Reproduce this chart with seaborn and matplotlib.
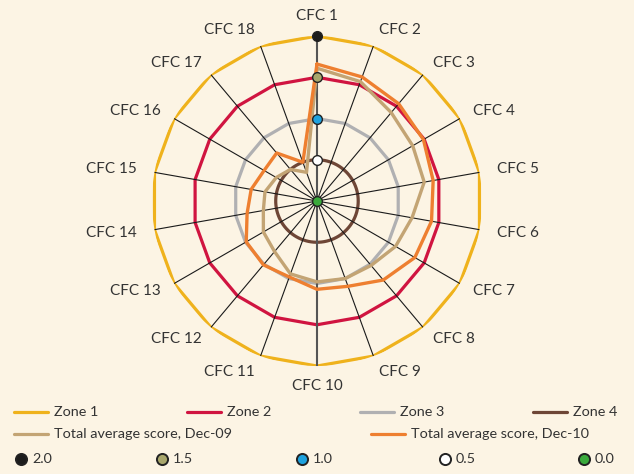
import numpy as np
import pandas as pd
import matplotlib.pyplot as plt
import seaborn as sns

# Radar chart: CFC scores vs. zone thresholds
categories = [f"CFC {i}" for i in range(1, 19)]
dec09 = [1.61, 1.54, 1.40, 1.34, 1.32, 1.17, 1.10, 1.02, 1.00,
         0.98, 0.94, 0.80, 0.75, 0.66, 0.64, 0.57, 0.50, 0.37]
dec10 = [1.66, 1.60, 1.54, 1.49, 1.43, 1.41, 1.37, 1.25, 1.10,
         1.07, 0.98, 1.01, 0.99, 0.86, 0.81, 0.74, 0.76, 0.50]
zone_names = ["Zone 1", "Zone 2", "Zone 3", "Zone 4"]
zone_levels = [2.0, 1.5, 1.0, 0.5]
zone_colors = ["#efb21c", "#d01440", "#b0b0b2", "#6e4636"]
marker_levels = [2.0, 1.5, 1.0, 0.5, 0.0]
marker_colors = ["#1c1c1c", "#a9a76c", "#1ea2de", "#ffffff", "#3aaa3c"]
tan = "#c3a474"
orange = "#ee7f30"
bg = "#fcf4e4"

sns.set_theme(style="white")
plt.rcParams["font.family"] = ["Lato", "DejaVu Sans"]

n = len(categories)
theta = np.linspace(0, 2 * np.pi, n, endpoint=False)
theta_c = np.append(theta, theta[0])

fig = plt.figure(figsize=(6.34, 4.74), dpi=100, facecolor=bg)
ax = fig.add_axes([0.2397, 0.2278, 0.5205, 0.6962], projection="polar")
ax.set_facecolor("none")
ax.set_theta_zero_location("N")
ax.set_theta_direction(-1)
ax.set_ylim(0, 2.0)
ax.grid(False)
ax.set_xticks([])
ax.set_yticks([])
ax.spines["polar"].set_visible(False)

# zone rings
for lvl, col, name in zip(zone_levels, zone_colors, zone_names):
    if name == "Zone 4":
        t = np.linspace(0, 2 * np.pi, 200)
        ax.plot(t, np.full_like(t, lvl), color=col, lw=2.3, zorder=2)
    else:
        ax.plot(theta_c, np.full_like(theta_c, lvl), color=col, lw=2.3, zorder=2)

# spokes
for i, t in enumerate(theta):
    if i in (0, 9):
        ax.plot([t, t], [0, 2.0], color="#555555", lw=1.5, zorder=3)
    else:
        ax.plot([t, t], [0, 2.0], color="#1a1a1a", lw=0.8, zorder=3)

# score series
df = pd.DataFrame({
    "theta": np.concatenate([theta_c, theta_c]),
    "score": dec09 + [dec09[0]] + dec10 + [dec10[0]],
    "series": ["Dec-09"] * (n + 1) + ["Dec-10"] * (n + 1),
})
sns.lineplot(data=df, x="theta", y="score", hue="series", sort=False,
             estimator=None, palette={"Dec-09": tan, "Dec-10": orange},
             lw=2.4, legend=False, ax=ax, zorder=4)
ax.set_xlabel("")
ax.set_ylabel("")

# level markers on CFC 1 spoke
for lvl, col in zip(marker_levels, marker_colors):
    ax.plot([0], [lvl], marker="o", ms=7, mfc=col, mec="#222222", mew=1.0,
            zorder=6, clip_on=False)

# category labels
for t, lab in zip(theta, categories):
    s, c = np.sin(t), np.cos(t)
    if abs(s) < 0.05:
        ha = "center"
    elif s > 0:
        ha = "left"
    else:
        ha = "right"
    # pull the diagonal labels slightly toward the horizontal
    r = 2.24 - 0.06 * abs(s * c) * 2
    ax.text(t, r, lab, ha=ha, va="center", fontsize=11, color="#333333")

# legend drawn in pixel space
lg = fig.add_axes([0, 0, 1, 1], facecolor="none")
lg.set_xlim(0, 634)
lg.set_ylim(474, 0)
lg.axis("off")
line_items = [
    ("Zone 1", zone_colors[0], 14, 412),
    ("Zone 2", zone_colors[1], 187, 412),
    ("Zone 3", zone_colors[2], 360, 412),
    ("Zone 4", zone_colors[3], 533, 412),
    ("Total average score, Dec-09", tan, 14, 434),
    ("Total average score, Dec-10", orange, 371, 434),
]
for label, col, x, y in line_items:
    lg.plot([x, x + 34], [y, y], color=col, lw=2.3)
    lg.text(x + 40, y, label, ha="left", va="center", fontsize=10.4,
            color="#333333")
marker_x = [21, 162, 302, 445, 584]
for lvl, col, x in zip(marker_levels, marker_colors, marker_x):
    lg.plot([x], [459], marker="o", ms=8, mfc=col, mec="#222222", mew=1.4)
    lg.text(x + 11, 459, f"{lvl:.1f}", ha="left", va="center", fontsize=10.4,
            color="#333333")

fig.savefig("out.png", dpi=100, facecolor=bg)
